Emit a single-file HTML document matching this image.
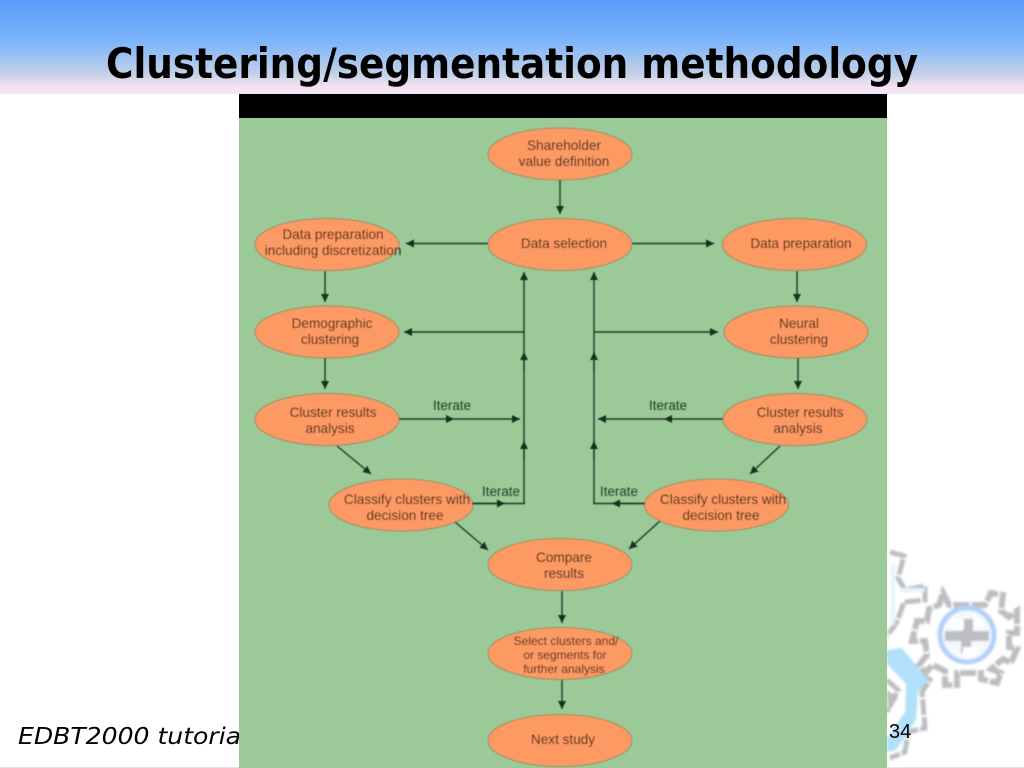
<!DOCTYPE html>
<html>
<head>
<meta charset="utf-8">
<style>
html,body{margin:0;padding:0;background:#fff;width:1024px;height:768px;overflow:hidden}
svg{display:block}
</style>
</head>
<body>
<svg width="1024" height="768" viewBox="0 0 1024 768" xmlns="http://www.w3.org/2000/svg">
<defs>
<linearGradient id="hdr" x1="0" y1="0" x2="0" y2="1">
<stop offset="0" stop-color="#5a9afa"/>
<stop offset="0.45" stop-color="#7db6fb"/>
<stop offset="0.78" stop-color="#c3d0e6"/>
<stop offset="0.92" stop-color="#f3e2f3"/>
<stop offset="1" stop-color="#f5e6f5"/>
</linearGradient>
<filter id="soft" x="-5%" y="-5%" width="110%" height="110%"><feGaussianBlur stdDeviation="0.45"/></filter>
<filter id="gearblur" x="-5%" y="-5%" width="110%" height="110%"><feGaussianBlur stdDeviation="1"/></filter>
<marker id="a" markerWidth="10" markerHeight="8" refX="8" refY="4" orient="auto" markerUnits="userSpaceOnUse"><path d="M0 0L8 4L0 8Z" fill="#17301c"/></marker>
</defs>

<rect width="1024" height="768" fill="#fff"/>
<rect width="1024" height="94" fill="url(#hdr)"/>
<text x="106" y="78" font-family="'DejaVu Sans',sans-serif" font-weight="bold" font-size="42" textLength="812" lengthAdjust="spacingAndGlyphs" fill="#000">Clustering/segmentation methodology</text>

<!-- gears -->
<g filter="url(#gearblur)">
<g transform="translate(967 635)">
<g fill="none" stroke="#bcbec1" stroke-width="6" stroke-dasharray="16 2">
<path d="M-24 -42L-18 -30L18 -30L24 -42L36 -40L34 -24L42 -18L50 -24L50 -2L42 -2L42 12L50 14L44 28L36 24L24 34L34 38L30 48L14 44L14 38L-10 38L-10 50L-22 50L-22 36L-34 30L-42 38L-48 30L-40 20L-42 6L-55 6L-50 -14L-40 -14L-38 -26L-28 -30Z"/>
</g>
<circle r="27" fill="#f4f9fc" stroke="#b2cffb" stroke-width="5"/>
<path d="M-22 -4H-4V-16H6V-4H22V6H4V18H-6V6H-22Z" fill="#bcbec3"/>
<path d="M-14 -17L-3 -15V-6H-18ZM6 -20L16 -14L18 -8H7ZM-4 12H12L8 22H-4Z" fill="#fff"/>
</g>
<g fill="none" stroke="#bcbec1" stroke-width="5" stroke-dasharray="16 2">
<path d="M890 552L904 556L898 578L905 590L925 586V600L904 602L897 622L887 636"/>
<path d="M887 654L912 668L930 680L922 692L925 728L908 732L905 752L890 758"/>
<path d="M887 680L898 690L893 700L887 712"/>
</g>
<g fill="none" stroke="#e8f3fb" stroke-width="4"><path d="M893 565V625"/><path d="M900 590H925"/></g>
<path d="M887 650L902 648L928 680L918 692L916 720L896 750L887 752V738L905 712L906 684L887 664Z" fill="#b2e0fb"/>
<path d="M887 690L898 698L888 712Z" fill="#bcbec1"/>
</g>
<text x="889" y="738" font-family="'Liberation Sans',sans-serif" font-size="20" fill="#000">34</text>

<text x="18" y="744" font-family="'DejaVu Sans',sans-serif" font-style="oblique" font-size="23" textLength="230" lengthAdjust="spacingAndGlyphs" fill="#000">EDBT2000 tutorial</text>
<rect x="0" y="767" width="1024" height="1" fill="#e4e4e4"/>

<!-- figure -->
<rect x="239" y="94" width="648" height="674" fill="#9bca98"/>
<rect x="239" y="94" width="648" height="24" fill="#000"/>

<g filter="url(#soft)">
<g fill="#fd9a64" stroke="#9d8b62" stroke-width="1">
<ellipse cx="560" cy="154" rx="72" ry="26"/>
<ellipse cx="560" cy="244.5" rx="72" ry="26"/>
<ellipse cx="327" cy="244.5" rx="72" ry="26"/>
<ellipse cx="794.5" cy="244.5" rx="72" ry="26"/>
<ellipse cx="327" cy="332" rx="72" ry="26"/>
<ellipse cx="796" cy="332" rx="72" ry="26"/>
<ellipse cx="327" cy="419.5" rx="72" ry="26"/>
<ellipse cx="795" cy="419.5" rx="72" ry="26"/>
<ellipse cx="401" cy="505" rx="72" ry="26"/>
<ellipse cx="716.5" cy="505" rx="72" ry="26"/>
<ellipse cx="560" cy="564.5" rx="72" ry="26"/>
<ellipse cx="560" cy="653.5" rx="72" ry="26"/>
<ellipse cx="560" cy="740.5" rx="72" ry="26"/>
</g>

<g fill="none" stroke="#1f3a26" stroke-width="1.4">
<path d="M560 180V214" marker-end="url(#a)"/>
<path d="M488 243.500H406" marker-end="url(#a)"/>
<path d="M632 243.500H714" marker-end="url(#a)"/>
<path d="M325 271V302" marker-end="url(#a)"/>
<path d="M797 271V302" marker-end="url(#a)"/>
<path d="M325 358V389" marker-end="url(#a)"/>
<path d="M798 358V389" marker-end="url(#a)"/>
<path d="M524 332H404" marker-end="url(#a)"/>
<path d="M594 332H718" marker-end="url(#a)"/>
<path d="M399 419H454" marker-end="url(#a)"/>
<path d="M454 419H520" marker-end="url(#a)"/>
<path d="M723 419H664" marker-end="url(#a)"/>
<path d="M664 419H598" marker-end="url(#a)"/>
<path d="M524 503V272" marker-end="url(#a)"/>
<path d="M594 503V272" marker-end="url(#a)"/>
<path d="M524 370V352" marker-end="url(#a)"/>
<path d="M594 370V352" marker-end="url(#a)"/>
<path d="M524 460V441" marker-end="url(#a)"/>
<path d="M594 460V441" marker-end="url(#a)"/>
<path d="M472 503.500H525"/>
<path d="M472 503.500H505" marker-end="url(#a)"/>
<path d="M645 503.500H593"/>
<path d="M645 503.500H612" marker-end="url(#a)"/>
<path d="M337 446L371 474" marker-end="url(#a)"/>
<path d="M780 446L750 474" marker-end="url(#a)"/>
<path d="M455 522L488 550" marker-end="url(#a)"/>
<path d="M660 521L629 549" marker-end="url(#a)"/>
<path d="M562 591V623" marker-end="url(#a)"/>
<path d="M562 680V709" marker-end="url(#a)"/>
</g>

<g font-family="'Liberation Sans',sans-serif" font-size="13.600" fill="#3a2216" text-anchor="middle">
<text x="564" y="150">Shareholder</text>
<text x="564" y="166">value definition</text>
<text x="564" y="248">Data selection</text>
<text x="333" y="239">Data preparation</text>
<text x="333" y="255">including discretization</text>
<text x="801" y="248">Data preparation</text>
<text x="332" y="328">Demographic</text>
<text x="330" y="344">clustering</text>
<text x="799" y="328">Neural</text>
<text x="799" y="344">clustering</text>
<text x="333" y="417">Cluster results</text>
<text x="330" y="433">analysis</text>
<text x="800" y="417">Cluster results</text>
<text x="798" y="433">analysis</text>
<text x="407" y="504">Classify clusters with</text>
<text x="405" y="520">decision tree</text>
<text x="723" y="504">Classify clusters with</text>
<text x="721" y="520">decision tree</text>
<text x="564" y="562">Compare</text>
<text x="564" y="578">results</text>
<text x="566" y="645" font-size="12">Select clusters and/</text>
<text x="565" y="659" font-size="12">or segments for</text>
<text x="564" y="673" font-size="12">further analysis</text>
<text x="563" y="744">Next study</text>
</g>
<g font-family="'Liberation Sans',sans-serif" font-size="13.400" fill="#223e2a" text-anchor="middle">
<text x="452" y="410">Iterate</text>
<text x="501" y="496">Iterate</text>
<text x="619" y="496">Iterate</text>
<text x="668" y="410">Iterate</text>
</g>
</g>
</svg>
</body>
</html>
